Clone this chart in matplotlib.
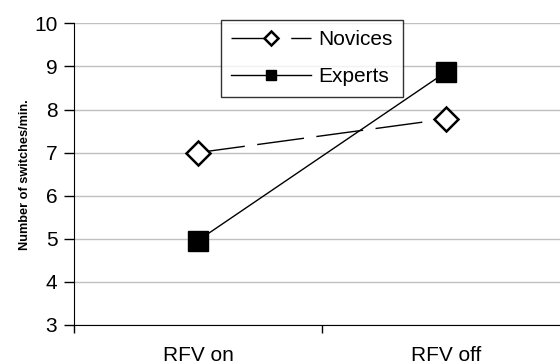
import matplotlib.pyplot as plt
from matplotlib.ticker import FixedLocator

# data
conditions = ["RFV on", "RFV off"]
novices = [7.0, 7.78]
experts = [4.96, 8.87]
y_ticks = [3, 4, 5, 6, 7, 8, 9, 10]

plt.rcParams["font.family"] = ["Liberation Sans", "DejaVu Sans"]

fig = plt.figure(figsize=(5.6, 3.64), dpi=100)
ax = fig.add_axes([74 / 560, 1 - 325 / 364, 496 / 560, (325 - 23.3) / 364])

x = list(range(len(conditions)))

ax.plot(x, novices, color="black", lw=1, dashes=(34, 9),
        marker="D", markersize=12, markerfacecolor="white",
        markeredgecolor="black", markeredgewidth=1.8, label="Novices", zorder=3)
ax.plot(x, experts, color="black", lw=1, marker="s", markersize=14,
        markerfacecolor="black", markeredgecolor="black", label="Experts", zorder=3)

ax.set_xlim(-0.5, 1.5)
ax.set_ylim(3, 10)
ax.set_yticks(y_ticks)
ax.set_xticks(x)
ax.set_xticklabels(conditions)
ax.xaxis.set_minor_locator(FixedLocator([-0.5, 0.5, 1.5]))
ax.tick_params(axis="x", which="major", length=0, pad=15, labelsize=15)
ax.tick_params(axis="x", which="minor", length=6, width=1, direction="out")
ax.tick_params(axis="y", length=7, width=1, direction="out", pad=5, labelsize=15)

ax.grid(axis="y", color="#c0c0c0", lw=1)
ax.set_axisbelow(True)
for s in ["top", "right"]:
    ax.spines[s].set_visible(False)
ax.spines["left"].set_color("black")
ax.spines["bottom"].set_color("black")

ax.set_ylabel("Number of switches/min.", fontsize=9.2, fontweight="bold", labelpad=2)

leg = ax.legend(loc="upper left", bbox_to_anchor=(221 / 560, 1 - 20 / 364),
                bbox_transform=fig.transFigure, borderaxespad=0, fontsize=15,
                handlelength=3.8, handletextpad=0.35, labelspacing=0.85,
                fancybox=False, frameon=True, borderpad=0.5)
leg.get_frame().set_edgecolor("black")
leg.get_frame().set_linewidth(1)
for h in leg.legend_handles:
    h.set_markersize(7)

fig.savefig("out.png", dpi=100)
